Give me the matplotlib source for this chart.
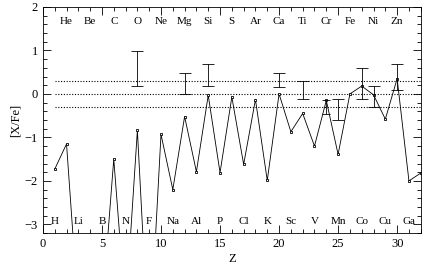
import matplotlib
matplotlib.use("Agg")
import matplotlib.pyplot as plt
from matplotlib.ticker import MultipleLocator

#Abundance data
z_vals = list(range(1, 33))
xfe = [-1.73, -1.15, -5.0, -5.0, -5.0, -1.5, -5.0, -0.84, -6.0, -0.93,
       -2.2, -0.52, -1.79, -0.03, -1.81, -0.07, -1.62, -0.13, -1.99, 0.0,
       -0.87, -0.45, -1.2, -0.15, -1.39, 0.0, 0.18, -0.02, -0.58, 0.35,
       -2.0, -1.82]

#Observed ranges (Z, low, high)
obs_z = [8, 12, 14, 20, 22, 24, 25, 27, 28, 30]
obs_lo = [0.19, 0.0, 0.19, 0.17, -0.12, -0.47, -0.6, -0.11, -0.31, 0.08]
obs_hi = [0.98, 0.49, 0.69, 0.48, 0.3, -0.15, -0.12, 0.59, 0.18, 0.69]
obs_cap = [4, 4, 4, 4, 4, 3, 4, 4, 4, 4]

ref_levels = [0.3, 0.0, -0.3]

top_names = ["He", "Be", "C", "O", "Ne", "Mg", "Si", "S", "Ar", "Ca",
             "Ti", "Cr", "Fe", "Ni", "Zn"]
bot_names = ["H", "Li", "B", "N", "F", "Na", "Al", "P", "Cl", "K",
             "Sc", "V", "Mn", "Co", "Cu", "Ga"]

plt.rcParams['font.family'] = ['Liberation Serif', 'DejaVu Serif']
plt.rcParams['font.size'] = 9

fig = plt.figure(figsize=(4.25, 2.67), dpi=100)
ax = fig.add_axes([0.101, 0.127, 0.889, 0.847])

#Reference lines
for lev in ref_levels:
    ax.plot([1, 32], [lev, lev], linestyle=(0, (1, 1.5)), color="black", lw=0.8)

#Model curve
ax.plot(z_vals, xfe, color="black", lw=0.6, marker="s", ms=2,
        mfc="white", mec="black", mew=0.6)

#Observational ranges
for zz, lo, hi, cap in zip(obs_z, obs_lo, obs_hi, obs_cap):
    mid = (lo + hi) / 2.0
    ax.errorbar(zz, mid, yerr=[[mid - lo], [hi - mid]], fmt="none",
                ecolor="black", elinewidth=0.6, capsize=cap, capthick=0.6)

#Element names
for i, nm in enumerate(top_names):
    ax.text(2 * (i + 1), 1.67, nm, ha="center", va="center", fontsize=8)
for i, nm in enumerate(bot_names):
    ax.text(2 * i + 1, -2.93, nm, ha="center", va="center", fontsize=8)

ax.set_xlim(0, 32)
ax.set_ylim(-3.2, 2)
ax.xaxis.set_major_locator(MultipleLocator(5))
ax.xaxis.set_minor_locator(MultipleLocator(1))
ax.yaxis.set_major_locator(MultipleLocator(1))
ax.yaxis.set_minor_locator(MultipleLocator(0.2))
ax.tick_params(which="both", direction="in", top=True, right=True, width=0.6)
ax.tick_params(which="major", length=6)
ax.tick_params(which="minor", length=3)
for sp in ax.spines.values():
    sp.set_linewidth(0.6)

ax.set_xlabel("Z", labelpad=2)
ax.set_ylabel("[X/Fe]", labelpad=2)

fig.savefig("out.png", dpi=100)
